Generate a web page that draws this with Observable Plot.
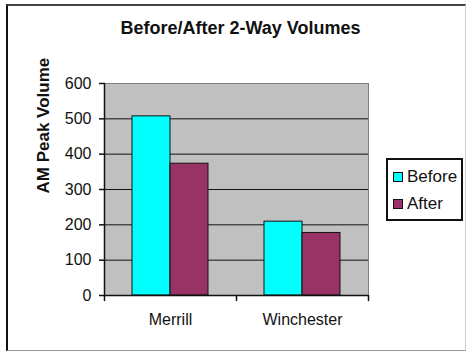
<!DOCTYPE html>
<html><head><meta charset="utf-8">
<script src="https://cdn.jsdelivr.net/npm/d3@7"></script>
<script src="https://cdn.jsdelivr.net/npm/@observablehq/plot@0.6"></script>
<style>
body{margin:0;background:#fff;font-family:"Liberation Sans",Arial,sans-serif;}
#chart{position:relative;width:467px;height:352px;overflow:hidden;background:#fff;}
#border{position:absolute;left:6px;top:4px;width:460px;height:347px;border-left:2px solid #111;border-top:2px solid #444;border-bottom:1px solid #999;border-right:1px solid #ccc;box-sizing:border-box;pointer-events:none;}
#title{position:absolute;left:0;width:481px;top:19px;text-align:center;font-weight:bold;font-size:18px;line-height:1;color:#111;}
#plot{position:absolute;left:0;top:50px;}
#legend{position:absolute;left:386px;top:158px;width:77px;height:63px;border:2px solid #111;box-sizing:border-box;padding-top:3px;}
.item{display:flex;align-items:center;height:27px;font-size:17px;color:#111;padding-left:5px;}
.sw{width:8px;height:8px;border:1px solid #111;margin-right:4px;}
</style></head>
<body>
<div id="chart">
  <div id="title"></div>
  <div id="plot"></div>
  <div id="legend"></div>
  <div id="border"></div>
</div>
<script>
const title = "Before/After 2-Way Volumes";
const yLabel = "AM Peak Volume";
const sites = ["Merrill", "Winchester"];
const periods = ["Before", "After"];
const beforeValues = [507, 209];
const afterValues = [373, 177];
const yTicks = [0, 100, 200, 300, 400, 500, 600];
const colors = ["#00ffff", "#993366"];

const data = [];
sites.forEach((s, i) => {
  data.push({site: s, period: periods[0], value: beforeValues[i]});
  data.push({site: s, period: periods[1], value: afterValues[i]});
});

document.getElementById("title").textContent = title;

const tickShape = {draw(context, l) { context.moveTo(0, 0); context.lineTo(0, -l); }};

const plot = Plot.plot({
  width: 467,
  height: 302,
  marginLeft: 103,
  marginRight: 99,
  marginTop: 33,
  marginBottom: 57,
  style: {background: "transparent", fontFamily: "'Liberation Sans', Arial, sans-serif", fontSize: "16px", color: "#111"},
  fx: {domain: sites, padding: 0},
  x: {domain: periods, paddingInner: 0, paddingOuter: 0.72, axis: null},
  y: {domain: [0, 600]},
  color: {domain: periods, range: colors},
  marks: [
    Plot.frame({fill: "#c0c0c0", stroke: "#c0c0c0", strokeWidth: 1}),
    Plot.ruleY(yTicks.filter(d => d > 0 && d < 600), {stroke: "#111", strokeWidth: 1}),
    Plot.frame({anchor: "top", stroke: "#808080"}),
    Plot.frame({anchor: "right", stroke: "#808080", facetAnchor: "right"}),
    Plot.barY(data, {fx: "site", x: "period", y: "value", fill: "period", stroke: "#111", strokeWidth: 1}),
    Plot.ruleY([0], {stroke: "#111", strokeWidth: 1.5}),
    Plot.frame({anchor: "left", stroke: "#111", strokeWidth: 1.5, facetAnchor: "left"}),
    Plot.vector([0], {frameAnchor: "bottom-left", length: 5, rotate: 180, anchor: "start", shape: tickShape, stroke: "#111", strokeWidth: 1.5}),
    Plot.vector([0], {frameAnchor: "bottom-right", length: 5, rotate: 180, anchor: "start", shape: tickShape, stroke: "#111", strokeWidth: 1.5, facetAnchor: "right"}),
    Plot.axisY({ticks: yTicks, tickSize: 5, tickPadding: 8, label: null, strokeWidth: 1.5, fontSize: 16}),
    Plot.axisFx({anchor: "bottom", tickSize: 0, tickPadding: 18, label: null, fontSize: 16}),
    Plot.text([yLabel], {frameAnchor: "left", rotate: -90, dx: -61, dy: 4, fontWeight: "bold", fontSize: 17, facetAnchor: "left", fill: "#111"})
  ]
});
document.getElementById("plot").appendChild(plot);

const color = plot.scale("color");
const legend = document.getElementById("legend");
periods.forEach((p, i) => {
  const it = document.createElement("div");
  it.className = "item";
  const sw = document.createElement("div");
  sw.className = "sw";
  sw.style.background = color.range[i];
  it.appendChild(sw);
  const t = document.createElement("span");
  t.textContent = p;
  it.appendChild(t);
  legend.appendChild(it);
});
</script>
</body></html>
